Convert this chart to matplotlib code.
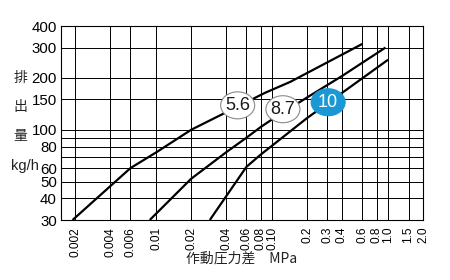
import matplotlib
matplotlib.use("Agg")
import matplotlib.pyplot as plt
from matplotlib.patches import Ellipse
from matplotlib.ticker import FixedLocator, NullLocator

NARROW = ['Liberation Sans Narrow', 'Liberation Sans', 'DejaVu Sans']
CJK = ['Noto Sans CJK JP', 'DejaVu Sans']

# ---- data ----
x_ticks = [0.002, 0.004, 0.006, 0.01, 0.02, 0.04, 0.06, 0.08, 0.10,
           0.2, 0.3, 0.4, 0.6, 0.8, 1.0, 1.5, 2.0]
x_tick_labels = ["0.002", "0.004", "0.006", "0.01", "0.02", "0.04", "0.06",
                 "0.08", "0.10", "0.2", "0.3", "0.4", "0.6", "0.8", "1.0",
                 "1.5", "2.0"]
y_ticks = [30, 40, 50, 60, 80, 100, 150, 200, 300, 400]
y_tick_labels = ["30", "40", "50", "60", "80", "100", "150", "200", "300", "400"]
y_grid = [30, 40, 50, 60, 70, 80, 90, 100, 150, 200, 300, 400]

x_56 = [0.0019, 0.004, 0.006, 0.01, 0.02, 0.087, 0.144, 0.6]
y_56 = [30, 47, 60, 74, 100, 164, 190, 315]

x_87 = [0.0088, 0.02, 0.04, 0.06, 0.08, 0.10, 0.2, 0.4, 0.95]
y_87 = [30, 52, 74, 90, 104, 115, 154, 205, 300]

x_10 = [0.029, 0.06, 0.08, 0.10, 0.2, 1.0]
y_10 = [30, 61, 72, 81, 117, 255]

series_labels = ["5.6", "8.7", "10"]
# ----------------------------------------

fig = plt.figure(figsize=(4.5, 2.8), dpi=100)
ax = fig.add_axes([61/450, 60/280, 362/450, 194/280])
ax.set_xscale('log')
ax.set_yscale('log')
ax.set_xlim(0.00151, 2.0)
ax.set_ylim(30, 400)

# grid
for xv in x_ticks:
    ax.axvline(xv, color='black', lw=0.7, zorder=1)
for yv in y_grid:
    ax.axhline(yv, color='black', lw=0.7, zorder=1)

for xs, ys in [(x_56, y_56), (x_87, y_87), (x_10, y_10)]:
    ax.plot(xs, ys, color='black', lw=1.6, zorder=3, solid_capstyle='butt')

ax.xaxis.set_major_locator(FixedLocator(x_ticks))
ax.xaxis.set_minor_locator(NullLocator())
ax.set_xticklabels(x_tick_labels, rotation=90, fontsize=8.6, family=NARROW)
ax.yaxis.set_major_locator(FixedLocator(y_ticks))
ax.yaxis.set_minor_locator(NullLocator())
ax.set_yticklabels(y_tick_labels, fontsize=10.8, family=NARROW)
ax.tick_params(axis='both', length=0)
ax.tick_params(axis='x', pad=5)
ax.tick_params(axis='y', pad=3)
for sp in ax.spines.values():
    sp.set_linewidth(0.8)
    sp.set_color('black')

# circle labels
label_pos = [(0.488, 0.591), (0.613, 0.571), (0.738, 0.607)]
faces = ['white', 'white', '#1a98d5']
edges = ['#8a8a8a', '#8a8a8a', '#1a98d5']
tcolors = ['#1a1a1a', '#1a1a1a', 'white']
for lab, (cx, cy), fc, ec, tc in zip(series_labels, label_pos, faces, edges, tcolors):
    e = Ellipse((cx, cy), 34/362, 27/194, transform=ax.transAxes,
                facecolor=fc, edgecolor=ec, lw=0.8, zorder=5)
    ax.add_patch(e)
    ax.text(cx, cy, lab, transform=ax.transAxes, ha='center', va='center',
            fontsize=13, color=tc, family=NARROW, zorder=6)

# axis titles
for ch, yy in zip("排出量", [78, 107, 136]):
    fig.text(20/450, 1 - yy/280, ch, ha='center', va='center', fontsize=10,
             family=CJK, color='#222222')
fig.text(25/450, 1 - 166/280, "kg/h", ha='center', va='center', fontsize=10.5,
         family=NARROW, color='#222222')
fig.text(242/450, 1 - 259/280, "作動圧力差\u3000MPa", ha='center', va='center',
         fontsize=10, family=CJK, color='#222222')

fig.savefig("out.png", dpi=100)
